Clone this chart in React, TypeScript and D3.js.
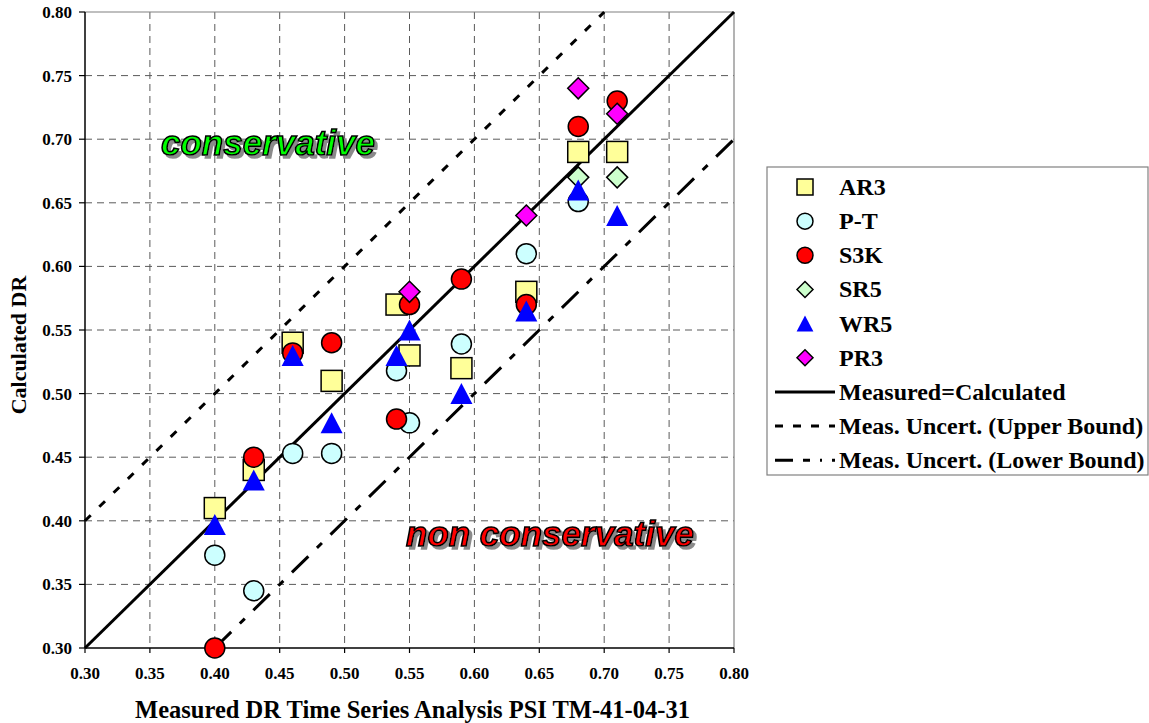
import React from "react";
import * as d3 from "d3";

const xTicks = [0.3, 0.35, 0.4, 0.45, 0.5, 0.55, 0.6, 0.65, 0.7, 0.75, 0.8];
const yTicks = [0.3, 0.35, 0.4, 0.45, 0.5, 0.55, 0.6, 0.65, 0.7, 0.75, 0.8];

const AR3 = [
  [0.4, 0.41], [0.43, 0.44], [0.46, 0.54], [0.49, 0.51], [0.54, 0.57],
  [0.55, 0.53], [0.59, 0.52], [0.64, 0.58], [0.68, 0.69], [0.71, 0.69],
];
const PT = [
  [0.4, 0.373], [0.43, 0.345], [0.46, 0.453], [0.49, 0.453], [0.54, 0.518],
  [0.55, 0.477], [0.59, 0.539], [0.64, 0.61], [0.68, 0.651],
];
const S3K = [
  [0.4, 0.3], [0.43, 0.45], [0.46, 0.532], [0.49, 0.54], [0.54, 0.48],
  [0.55, 0.57], [0.59, 0.59], [0.64, 0.57], [0.68, 0.71], [0.71, 0.73],
];
const SR5 = [[0.68, 0.67], [0.71, 0.67]];
const WR5 = [
  [0.4, 0.397], [0.43, 0.432], [0.46, 0.53], [0.49, 0.477], [0.54, 0.53],
  [0.55, 0.55], [0.59, 0.5], [0.64, 0.565], [0.68, 0.66], [0.71, 0.64],
];
const PR3 = [[0.55, 0.58], [0.64, 0.64], [0.68, 0.74], [0.71, 0.72]];

const series = [
  { name: "AR3", data: AR3, shape: "square", fill: "#FFFF99", stroke: "#000" },
  { name: "P-T", data: PT, shape: "circle", fill: "#CCFFFF", stroke: "#000" },
  { name: "S3K", data: S3K, shape: "circle", fill: "#FF0000", stroke: "#000" },
  { name: "SR5", data: SR5, shape: "diamond", fill: "#CCFFCC", stroke: "#000" },
  { name: "WR5", data: WR5, shape: "triangle", fill: "#0000FF", stroke: "none" },
  { name: "PR3", data: PR3, shape: "diamond", fill: "#FF00FF", stroke: "#000" },
];

const refLines = [
  { name: "Measured=Calculated", offset: 0, dash: "none" },
  { name: "Meas. Uncert. (Upper Bound)", offset: 0.1, dash: "8,12" },
  { name: "Meas. Uncert. (Lower Bound)", offset: -0.1, dash: "23,12,7,12" },
];

const regionLabels = [
  { t: "conservative", x: 161, y: 155, fill: "#00FF00" },
  { t: "non conservative", x: 406, y: 546, fill: "#FF0000" },
];

const serif = "'Liberation Serif', 'Times New Roman', serif";
const sans = "'Liberation Sans', Arial, sans-serif";

function Marker({ shape, fill, stroke, x, y, s }: any) {
  const sw = 1.5;
  if (shape === "square")
    return <rect x={x - s / 2} y={y - s / 2} width={s} height={s} fill={fill} stroke={stroke} strokeWidth={sw} />;
  if (shape === "circle")
    return <circle cx={x} cy={y} r={s / 2} fill={fill} stroke={stroke} strokeWidth={sw} />;
  if (shape === "diamond") {
    const h = s / 2;
    return <path d={`M${x},${y - h}L${x + h},${y}L${x},${y + h}L${x - h},${y}Z`} fill={fill} stroke={stroke} strokeWidth={sw} />;
  }
  const h = s / 2;
  return <path d={`M${x},${y - h}L${x + h * 1.05},${y + h}L${x - h * 1.05},${y + h}Z`} fill={fill} stroke={stroke} strokeWidth={sw} />;
}

export default function App() {
  const left = 85, right = 734, top = 12, bottom = 648;
  const x = d3.scaleLinear().domain([0.3, 0.8]).range([left, right]);
  const y = d3.scaleLinear().domain([0.3, 0.8]).range([bottom, top]);
  const fmt = d3.format(".2f");

  const lineFor = (off: number) => {
    const x0 = Math.max(0.3, 0.3 - off);
    const x1 = Math.min(0.8, 0.8 - off);
    const pts: [number, number][] = [[x0, x0 + off], [x1, x1 + off]];
    return d3.line<[number, number]>().x((d) => x(d[0])).y((d) => y(d[1]))(pts) as string;
  };

  const legX = 767, legY = 167, legW = 381, legH = 308;
  const rowY = (i: number) => 187 + i * 34.15;

  return (
    <svg width={1149} height={723} style={{ position: "absolute", left: 0, top: 0, background: "#fff" }}>
      <defs>
        <filter id="shadow" x="-5%" y="-20%" width="115%" height="150%">
          <feOffset in="SourceAlpha" dx="3" dy="3" result="off" />
          <feFlood floodColor="#8a8a8a" result="col" />
          <feComposite in="col" in2="off" operator="in" result="sh" />
          <feMerge>
            <feMergeNode in="sh" />
            <feMergeNode in="SourceGraphic" />
          </feMerge>
        </filter>
      </defs>
      {/* grid */}
      {xTicks.slice(1, -1).map((t) => (
        <line key={"gx" + t} x1={x(t)} x2={x(t)} y1={top} y2={bottom} stroke="#5a5a5a" strokeWidth={1} strokeDasharray="7,5" />
      ))}
      {yTicks.slice(1, -1).map((t) => (
        <line key={"gy" + t} x1={left} x2={right} y1={y(t)} y2={y(t)} stroke="#5a5a5a" strokeWidth={1} strokeDasharray="7,5" />
      ))}
      {/* frame */}
      <line x1={left} x2={right} y1={top} y2={top} stroke="#808080" strokeWidth={1.2} />
      <line x1={right} x2={right} y1={top} y2={bottom} stroke="#808080" strokeWidth={1.2} />
      {/* reference lines */}
      {refLines.map((r) => (
        <path key={r.name} d={lineFor(r.offset)} stroke="#000" strokeWidth={3} fill="none" strokeDasharray={r.dash} />
      ))}
      {/* axes */}
      <line x1={left} x2={left} y1={top} y2={bottom} stroke="#000" strokeWidth={1.5} />
      <line x1={left} x2={right} y1={bottom} y2={bottom} stroke="#000" strokeWidth={1.5} />
      {yTicks.map((t) => (
        <g key={"yt" + t}>
          <line x1={left - 6} x2={left} y1={y(t)} y2={y(t)} stroke="#000" strokeWidth={1.2} />
          <text x={72} y={y(t) + 6} textAnchor="end" fontFamily={serif} fontWeight="bold" fontSize={17}>{fmt(t)}</text>
        </g>
      ))}
      {xTicks.map((t) => (
        <g key={"xt" + t}>
          <line x1={x(t)} x2={x(t)} y1={bottom} y2={bottom + 5} stroke="#000" strokeWidth={1.2} />
          <text x={x(t)} y={679} textAnchor="middle" fontFamily={serif} fontWeight="bold" fontSize={17}>{fmt(t)}</text>
        </g>
      ))}
      {/* axis titles */}
      <text x={(left + right) / 2 + 3} y={718} textAnchor="middle" fontFamily={serif} fontWeight="bold" fontSize={24.5}>
        Measured DR Time Series Analysis PSI TM-41-04-31
      </text>
      <text transform="translate(26,345) rotate(-90)" textAnchor="middle" fontFamily={serif} fontWeight="bold" fontSize={22}>
        Calculated DR
      </text>
      {/* region labels */}
      {regionLabels.map((l) => (
        <text key={l.t} x={l.x} y={l.y} fontFamily={sans} fontWeight="bold" fontStyle="italic" fontSize={35}
          fill={l.fill} stroke="#000" strokeWidth={1.6} filter="url(#shadow)">{l.t}</text>
      ))}
      {/* points */}
      {series.map((s) => (
        <g key={s.name}>
          {s.data.map((d, i) => (
            <Marker key={i} shape={s.shape} fill={s.fill} stroke={s.stroke} x={x(d[0])} y={y(d[1])} s={s.shape === "circle" ? 20 : 21} />
          ))}
        </g>
      ))}
      {/* legend */}
      <rect x={legX} y={legY} width={legW} height={legH} fill="#fff" stroke="#808080" strokeWidth={1.2} />
      {series.map((s, i) => (
        <g key={"lg" + s.name}>
          <Marker shape={s.shape} fill={s.fill} stroke={s.stroke} x={805} y={rowY(i)} s={16} />
          <text x={839} y={rowY(i) + 8} fontFamily={serif} fontWeight="bold" fontSize={24}>{s.name}</text>
        </g>
      ))}
      {refLines.map((r, j) => (
        <g key={"lr" + r.name}>
          <line x1={775} x2={835} y1={rowY(6 + j)} y2={rowY(6 + j)} stroke="#000" strokeWidth={3} strokeDasharray={j === 0 ? "none" : j === 1 ? "8,10" : "18,10,7,10,2,10"} />
          <text x={839} y={rowY(6 + j) + 8} fontFamily={serif} fontWeight="bold" fontSize={24}>{r.name}</text>
        </g>
      ))}
    </svg>
  );
}
